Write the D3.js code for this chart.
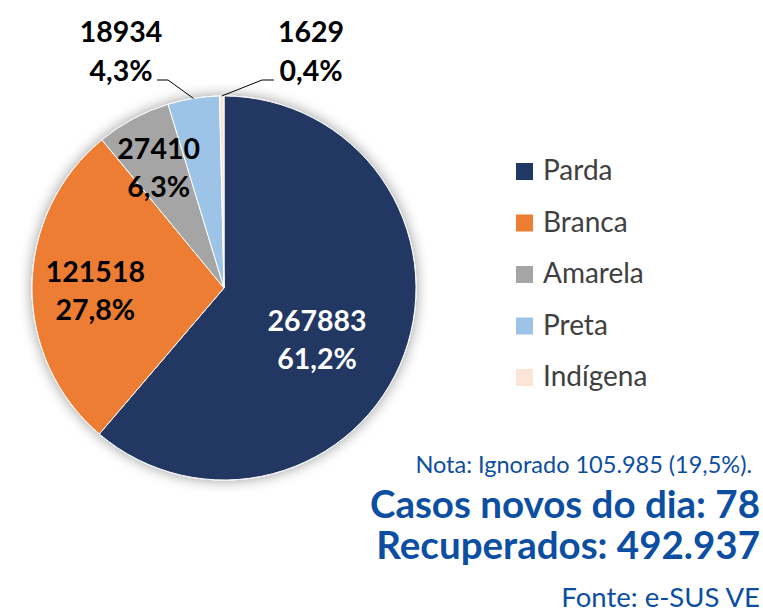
<!DOCTYPE html>
<html>
<head>
<meta charset="utf-8">
<script src="https://cdn.jsdelivr.net/npm/d3@7"></script>
<style>
  body { margin: 0; background: #fff; }
  svg { display: block; font-family: Lato, "Open Sans", sans-serif; }
</style>
</head>
<body>
<div class="PieChart"></div>
<script>
// data
const categories = ["Parda", "Branca", "Amarela", "Preta", "Indígena"];
const values = [267883, 121518, 27410, 18934, 1629];
const colors = ["#203864", "#ed7d31", "#a5a5a5", "#9dc3e6", "#fbe5d6"];
const noteLines = ["Nota: Ignorado 105.985 (19,5%).", "Casos novos do dia: 78", "Recuperados: 492.937", "Fonte: e-SUS VE"];

const width = 763, height = 613;
const cx = 224, cy = 288, radius = 192;

const svg = d3.select(".PieChart")
  .append("svg")
  .attr("width", width)
  .attr("height", height);

// soft shadow behind the pie
const defs = svg.append("defs");
const filter = defs.append("filter").attr("id", "shadow")
  .attr("x", "-20%").attr("y", "-20%").attr("width", "140%").attr("height", "140%");
filter.append("feGaussianBlur").attr("in", "SourceAlpha").attr("stdDeviation", 7);
filter.append("feOffset").attr("dx", 0).attr("dy", 0).attr("result", "blur");
filter.append("feComponentTransfer").append("feFuncA").attr("type", "linear").attr("slope", 0.4);
const merge = filter.append("feMerge");
merge.append("feMergeNode");
merge.append("feMergeNode").attr("in", "SourceGraphic");

const data = categories.map((c, i) => ({ name: c, value: values[i], color: colors[i] }));
const total = d3.sum(values);
const pct = d => d3.format(".1f")(d / total * 100).replace(".", ",") + "%";

const pie = d3.pie().value(d => d.value).sort(null);
const arcs = pie(data);
const arc = d3.arc().innerRadius(0).outerRadius(radius);

const g = svg.append("g").attr("transform", `translate(${cx},${cy})`);

g.append("g").attr("filter", "url(#shadow)")
  .selectAll("path")
  .data(arcs)
  .enter()
  .append("path")
  .attr("d", arc)
  .attr("fill", d => d.data.color)
  .attr("stroke", "#fff")
  .attr("stroke-width", 1);

const labelSize = 28.5;

// inside labels (Parda, Branca, Amarela): radius factor and small angle nudge
const insideR = [0.55, 0.67, 0.72];
const nudge = [8, -1, 0].map(a => a * Math.PI / 180);
const textColor = ["#fff", "#000", "#000"];
arcs.slice(0, 3).forEach((d, i) => {
  const a = (d.startAngle + d.endAngle) / 2 + nudge[i];
  const x = Math.sin(a) * radius * insideR[i];
  const y = -Math.cos(a) * radius * insideR[i];
  const t = g.append("text")
    .attr("text-anchor", "middle")
    .attr("font-weight", "bold")
    .attr("font-size", labelSize)
    .attr("fill", textColor[i]);
  t.append("tspan").attr("x", x).attr("y", y - 7).text(d.data.value);
  t.append("tspan").attr("x", x).attr("y", y + 31).text(pct(d.data.value));
});

// outside labels with leader lines (Preta, Indígena)
const elbowY = -radius - 16;
const outside = [
  { elbow: -56, end: -67, textX: -103 },
  { elbow: 38, end: 50, textX: 87 }
];
arcs.slice(3).forEach((d, i) => {
  const a = (d.startAngle + d.endAngle) / 2;
  const px = Math.sin(a) * radius, py = -Math.cos(a) * radius;
  const o = outside[i];
  g.append("polyline")
    .attr("points", [[px, py], [o.elbow, elbowY], [o.end, elbowY]].map(p => p.join(",")).join(" "))
    .attr("fill", "none")
    .attr("stroke", "#000")
    .attr("stroke-width", 1);
  const t = g.append("text")
    .attr("text-anchor", "middle")
    .attr("font-weight", "bold")
    .attr("font-size", labelSize)
    .attr("fill", "#000");
  t.append("tspan").attr("x", o.textX).attr("y", elbowY - 38).text(d.data.value);
  t.append("tspan").attr("x", o.textX).attr("y", elbowY + 1).text(pct(d.data.value));
});

// legend
const legend = svg.append("g").attr("transform", "translate(516,163)");
const item = legend.selectAll("g")
  .data(data)
  .enter()
  .append("g")
  .attr("transform", (d, i) => `translate(0,${i * 51.5})`);
item.append("rect")
  .attr("width", 17).attr("height", 17)
  .attr("fill", d => d.color);
item.append("text")
  .attr("x", 27).attr("y", 17)
  .attr("font-size", 28)
  .attr("fill", "#404040")
  .text(d => d.name);

// notes at bottom right
const blue = "#0b4ea2";
const noteStyle = [
  { y: 473, size: 23.5, weight: "normal" },
  { y: 518, size: 38.5, weight: "bold" },
  { y: 559, size: 38.5, weight: "bold" },
  { y: 607, size: 27.5, weight: "normal" }
];
svg.append("g").selectAll("text")
  .data(noteLines)
  .enter()
  .append("text")
  .attr("x", (d, i) => i === 0 ? 752 : 760)
  .attr("y", (d, i) => noteStyle[i].y)
  .attr("text-anchor", "end")
  .attr("font-size", (d, i) => noteStyle[i].size)
  .attr("font-weight", (d, i) => noteStyle[i].weight)
  .attr("fill", blue)
  .text(d => d);
</script>
</body>
</html>
